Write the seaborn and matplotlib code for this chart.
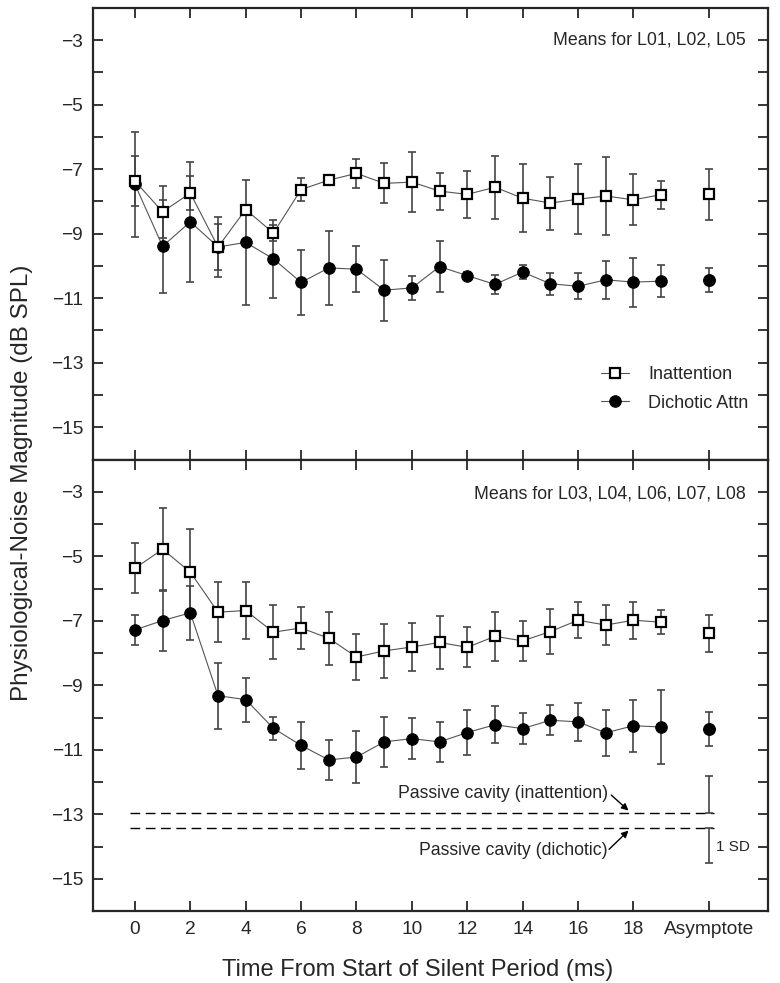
import numpy as np
import pandas as pd
import matplotlib
matplotlib.use('Agg')
import matplotlib.pyplot as plt
import seaborn as sns

# time points (ms) and the asymptote column
times = list(range(20))
asym_x = 20.72
xtick_vals = [0, 2, 4, 6, 8, 10, 12, 14, 16, 18, asym_x]
xtick_labels = ['0', '2', '4', '6', '8', '10', '12', '14', '16', '18', 'Asymptote']

# top panel: L01, L02, L05
top_inatt = [-7.37, -8.32, -7.74, -9.41, -8.25, -8.98, -7.63, -7.34, -7.13, -7.44,
             -7.40, -7.68, -7.78, -7.56, -7.90, -8.05, -7.93, -7.83, -7.95, -7.79]
top_inatt_sd = [0.77, 0.81, 0.54, 0.71, 0.10, 0.26, 0.36, 0.10, 0.46, 0.62,
                0.94, 0.57, 0.73, 0.97, 1.05, 0.82, 1.08, 1.22, 0.79, 0.43]
top_inatt_asym, top_inatt_asym_sd = -7.77, 0.79

top_dich = [-7.47, -9.39, -8.63, -9.41, -9.27, -9.78, -10.51, -10.06, -10.10, -10.75,
            -10.68, -10.02, -10.30, -10.57, -10.19, -10.55, -10.63, -10.43, -10.50, -10.47]
top_dich_sd = [1.63, 1.45, 1.86, 0.92, 1.93, 1.21, 1.00, 1.14, 0.72, 0.95,
               0.37, 0.79, 0.10, 0.29, 0.22, 0.34, 0.40, 0.58, 0.76, 0.49]
top_dich_asym, top_dich_asym_sd = -10.43, 0.38

# bottom panel: L03, L04, L06, L07, L08
bot_inatt = [-5.37, -4.78, -5.49, -6.73, -6.68, -7.35, -7.22, -7.54, -8.12, -7.93,
             -7.81, -7.67, -7.82, -7.48, -7.62, -7.33, -6.98, -7.13, -6.98, -7.04]
bot_inatt_sd = [0.77, 1.27, 1.35, 0.94, 0.88, 0.83, 0.65, 0.82, 0.72, 0.84,
                0.75, 0.81, 0.62, 0.76, 0.63, 0.70, 0.55, 0.62, 0.57, 0.37]
bot_inatt_asym, bot_inatt_asym_sd = -7.39, 0.57

bot_dich = [-7.28, -6.99, -6.75, -9.32, -9.44, -10.33, -10.86, -11.31, -11.22, -10.75,
            -10.65, -10.75, -10.46, -10.22, -10.34, -10.08, -10.13, -10.47, -10.25, -10.29]
bot_dich_sd = [0.47, 0.93, 0.83, 1.02, 0.68, 0.36, 0.73, 0.63, 0.81, 0.78,
               0.63, 0.62, 0.71, 0.57, 0.48, 0.46, 0.58, 0.72, 0.81, 1.15]
bot_dich_asym, bot_dich_asym_sd = -10.36, 0.52

# passive cavity levels and the 1 SD bars
passive_inatt = -12.97
passive_dich = -13.43
passive_inatt_sd = 1.15
passive_dich_sd = 1.07
passive_x = [-0.18, 20.9]

sns.set_style('ticks')
plt.rcParams['font.family'] = ['Liberation Sans', 'DejaVu Sans']

fig, (ax1, ax2) = plt.subplots(2, 1, sharex=True, figsize=(7.8, 9.83), dpi=100)
fig.subplots_adjust(left=0.119, right=0.984, top=0.992, bottom=0.073, hspace=0)

ebar_kw = dict(fmt='none', ecolor='#444444', elinewidth=1.2, capsize=3, capthick=1.2, zorder=2)
sq_kw = dict(marker='s', markersize=7, markerfacecolor='white', markeredgecolor='black',
             markeredgewidth=1.6)
ci_kw = dict(marker='o', markersize=8.3, markerfacecolor='black', markeredgecolor='black')


def draw_panel(ax, inatt, inatt_sd, ia, ia_sd, dich, dich_sd, da, da_sd, with_labels):
    df = pd.DataFrame({'t': times, 'inatt': inatt, 'dich': dich})
    ax.errorbar(times, inatt, yerr=inatt_sd, **ebar_kw)
    ax.errorbar(times, dich, yerr=dich_sd, **ebar_kw)
    ax.errorbar([asym_x], [ia], yerr=[ia_sd], **ebar_kw)
    ax.errorbar([asym_x], [da], yerr=[da_sd], **ebar_kw)
    sns.lineplot(data=df, x='t', y='dich', ax=ax, color='#555555', linewidth=0.8,
                 label='Dichotic Attn' if with_labels else None, zorder=3, **ci_kw)
    sns.lineplot(data=df, x='t', y='inatt', ax=ax, color='#555555', linewidth=0.8,
                 label='Inattention' if with_labels else None, zorder=4, **sq_kw)
    ax.plot([asym_x], [da], linestyle='none', zorder=3, **ci_kw)
    ax.plot([asym_x], [ia], linestyle='none', zorder=4, **sq_kw)


draw_panel(ax1, top_inatt, top_inatt_sd, top_inatt_asym, top_inatt_asym_sd,
           top_dich, top_dich_sd, top_dich_asym, top_dich_asym_sd, True)
draw_panel(ax2, bot_inatt, bot_inatt_sd, bot_inatt_asym, bot_inatt_asym_sd,
           bot_dich, bot_dich_sd, bot_dich_asym, bot_dich_asym_sd, False)

# passive cavity lines
ax2.plot(passive_x, [passive_inatt] * 2, color='black', linestyle=(0, (7, 4)), linewidth=1.0)
ax2.plot(passive_x, [passive_dich] * 2, color='black', linestyle=(0, (7, 4)), linewidth=1.0)
ax2.errorbar([asym_x], [passive_inatt], yerr=[[0], [passive_inatt_sd]], fmt='none',
             ecolor='#444444', elinewidth=1.2, capsize=3, capthick=1.2)
ax2.errorbar([asym_x], [passive_dich], yerr=[[passive_dich_sd], [0]], fmt='none',
             ecolor='#444444', elinewidth=1.2, capsize=3, capthick=1.2)
ax2.text(asym_x + 0.25, -14.0, '1 SD', fontsize=11, ha='left', va='center')

ax2.text(17.1, -12.36, 'Passive cavity (inattention)', fontsize=12.7, ha='right', va='center')
ax2.text(17.05, -14.12, 'Passive cavity (dichotic)', fontsize=12.7, ha='right', va='center')
arrow = dict(arrowstyle='-|>', color='black', lw=1.0, mutation_scale=10, shrinkA=0, shrinkB=0)
ax2.annotate('', xy=(17.82, -12.88), xytext=(17.2, -12.4), arrowprops=arrow)
ax2.annotate('', xy=(17.82, -13.5), xytext=(17.12, -14.08), arrowprops=arrow)

ax1.text(0.967, 0.929, 'Means for L01, L02, L05', transform=ax1.transAxes,
         fontsize=12.8, ha='right', va='center')
ax2.text(0.967, 0.923, 'Means for L03, L04, L06, L07, L08', transform=ax2.transAxes,
         fontsize=12.8, ha='right', va='center')

# legend: only top panel
handles, labels = ax1.get_legend_handles_labels()
order = [labels.index('Inattention'), labels.index('Dichotic Attn')]
ax1.legend([handles[i] for i in order], [labels[i] for i in order],
           loc='upper left', bbox_to_anchor=(0.740, 0.226), frameon=False,
           fontsize=13, handlelength=1.55, handletextpad=1.05, labelspacing=0.62,
           borderpad=0)

ytick_vals = list(range(-15, -2))
ytick_labels = ['\u2212%d' % abs(v) if v % 2 else '' for v in ytick_vals]
for ax in (ax1, ax2):
    ax.set_xlim(-1.52, 22.84)
    ax.set_ylim(-16, -2)
    ax.set_yticks(ytick_vals)
    ax.set_yticklabels(ytick_labels)
    ax.set_xticks(xtick_vals)
    ax.set_xlabel('')
    ax.set_ylabel('')
    ax.tick_params(direction='in', top=True, right=True, length=7, width=1.3,
                   labelsize=13.8, pad=7)
    for s in ax.spines.values():
        s.set_linewidth(1.6)
        s.set_visible(True)

ax2.set_xticklabels(xtick_labels)
ax1.tick_params(labelbottom=False)

fig.text(0.028, 0.509, 'Physiological-Noise Magnitude (dB SPL)', rotation=90,
         ha='center', va='center', fontsize=17.5)
fig.text(0.535, 0.0132, 'Time From Start of Silent Period (ms)',
         ha='center', va='center', fontsize=17)

fig.savefig('out.png', dpi=100)
